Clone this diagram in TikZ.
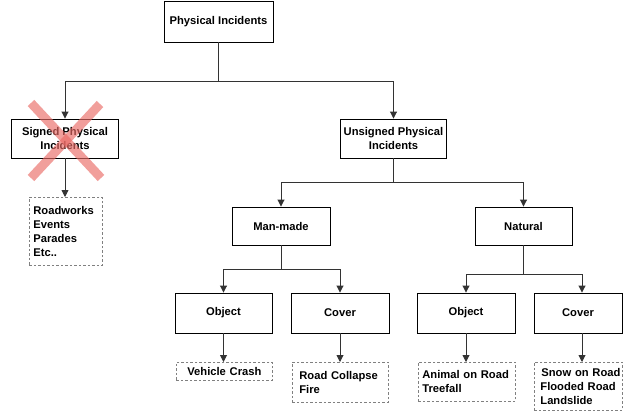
\documentclass[tikz,border=0pt]{standalone}
\usepackage{fontspec}
\setmainfont{Liberation Sans}
\usetikzlibrary{arrows.meta}
\definecolor{linec}{HTML}{333333}
\definecolor{xred}{HTML}{EA6B66}
\tikzset{
  box/.style={draw=black, line width=0.9pt, fill=white, font=\fontsize{11.2}{14}\selectfont\bfseries, align=center, inner sep=2pt},
  list/.style={draw=gray, dashed, dash pattern=on 2.5pt off 2pt, line width=0.8pt, fill=white, font=\fontsize{11.2}{14}\selectfont\bfseries, align=left, inner sep=0pt, anchor=north west},
  conn/.style={draw=linec, line width=0.9pt},
  arr/.style={conn, -{Triangle[length=7pt,width=7pt]}}
}
\begin{document}
\begin{tikzpicture}[x=1pt,y=-1pt]
\useasboundingbox (0,0) rectangle (623,413);
% main boxes
\node[box, minimum width=109pt, minimum height=41pt] (phys) at (218.5,21.5) {Physical Incidents};
\node[box, minimum width=107pt, minimum height=39pt] (signed) at (65,138.5) {Signed Physical\\Incidents};
\node[box, minimum width=106pt, minimum height=39pt] (unsigned) at (393.5,138.5) {Unsigned Physical\\Incidents};
\node[box, minimum width=98pt, minimum height=38pt] (man) at (281,226) {Man-made};
\node[box, minimum width=97pt, minimum height=38pt] (nat) at (523.5,226) {Natural};
\node[box, minimum width=97pt, minimum height=40pt] (obj1) at (223.5,313) {Object};
\node[box, minimum width=98pt, minimum height=40pt] (cov1) at (340,313) {Cover};
\node[box, minimum width=98pt, minimum height=40pt] (obj2) at (466,313) {Object};
\node[box, minimum width=88pt, minimum height=40pt] (cov2) at (578,313) {Cover};
% lists
\node[list, minimum width=73pt, minimum height=68pt, text width=73pt] (l0) at (29,197) {\hspace*{4pt}Roadworks\\\hspace*{4pt}Events\\\hspace*{4pt}Parades\\\hspace*{4pt}Etc..};
\node[list, minimum width=96pt, minimum height=18pt, text width=96pt, align=center] (l1) at (176,362) {Vehicle Crash};
\node[list, minimum width=96pt, minimum height=40pt, text width=96pt] (l2) at (292,362) {\hspace*{7pt}Road Collapse\\\hspace*{7pt}Fire};
\node[list, minimum width=97pt, minimum height=39pt, text width=97pt] (l3) at (418,362) {\hspace*{4pt}Animal on Road\\\hspace*{4pt}Treefall};
\node[list, minimum width=88pt, minimum height=48pt, text width=88pt] (l4) at (534,362) {\hspace*{7pt}Snow on Road\\\hspace*{6pt}Flooded Road\\\hspace*{6pt}Landslide};
% connectors
\coordinate (j0) at (218.5,81);
\draw[conn] (phys.south) -- (j0);
\draw[arr] (j0) -| (signed.north);
\draw[arr] (j0) -| (unsigned.north);
\coordinate (j1) at (393.5,182);
\draw[conn] (unsigned.south) -- (j1);
\draw[arr] (j1) -| (man.north);
\draw[arr] (j1) -| (nat.north);
\coordinate (j2) at (281,269);
\draw[conn] (man.south) -- (j2);
\draw[arr] (j2) -| (obj1.north);
\draw[arr] (j2) -| (cov1.north);
\coordinate (j3) at (523.5,274);
\coordinate (c2t) at ([xshift=4pt]cov2.north);
\coordinate (c2b) at ([xshift=4pt]cov2.south);
\draw[conn] (nat.south) -- (j3);
\draw[arr] (j3) -| (obj2.north);
\draw[arr] (j3) -| (c2t);
\draw[arr] (signed.south) -- (l0.north -| signed.south);
\draw[arr] (obj1.south) -- (l1.north -| obj1.south);
\draw[arr] (cov1.south) -- (l2.north -| cov1.south);
\draw[arr] (obj2.south) -- (l3.north -| obj2.south);
\draw[arr] (c2b) -- (l4.north -| c2b);
% red cross
\draw[xred, opacity=0.65, line width=9pt] (31,103) -- (101,178);
\draw[xred, opacity=0.65, line width=9pt] (100,104) -- (31,178);
\end{tikzpicture}
\end{document}
